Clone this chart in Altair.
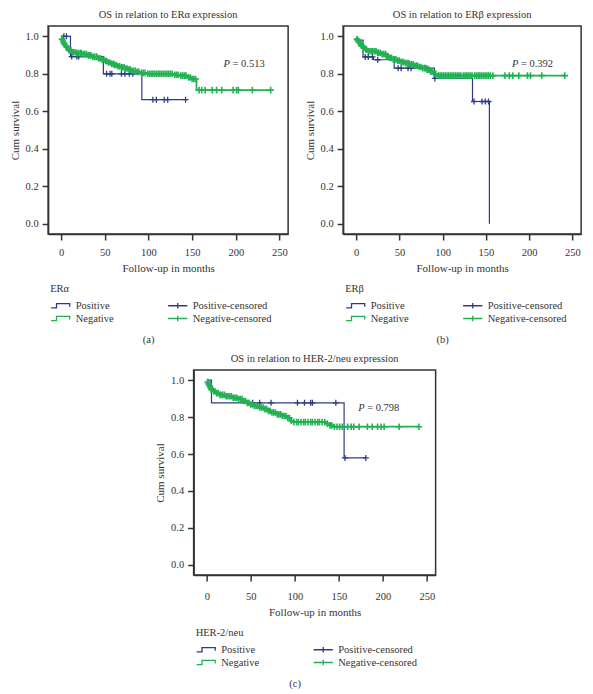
import altair as alt
import pandas as pd

FONT = "Liberation Serif"
TXT = "#333333"
NAVY = "#2f3c84"
GREEN = "#22b152"

# ---------------- data ----------------
x_ticks = [0, 50, 100, 150, 200, 250]
y_ticks = [0.0, 0.2, 0.4, 0.6, 0.8, 1.0]
series_order = ["Positive", "Negative", "Positive-censored", "Negative-censored"]

panel_titles = ["OS in relation to ERα expression",
                "OS in relation to ERβ expression",
                "OS in relation to HER-2/neu expression"]
legend_titles = ["ERα", "ERβ", "HER-2/neu"]
panel_tags = ["(a)", "(b)", "(c)"]
p_values = ["= 0.513", "= 0.392", "= 0.798"]
p_x = [186, 180, 172]
p_y = [0.853, 0.852, 0.85]

# (a) ER alpha
a_pos_t = [0, 10.6, 48.3, 92.4, 142.5]
a_pos_s = [1.0, 0.892, 0.80, 0.662, 0.662]
a_pos_c = [3, 6, 12, 18, 20, 52, 56, 58, 69, 73, 78, 82, 105, 109, 118, 122, 142.5]
a_neg_t = [0, 1, 2, 3, 4, 5, 7, 9, 12, 18, 24, 30, 36, 42, 47, 50, 53, 57, 61, 65, 69, 73,
           77, 81, 86, 91, 97, 128, 135, 145, 150, 155, 240]
a_neg_s = [1.0, 0.985, 0.975, 0.965, 0.955, 0.945, 0.935, 0.925, 0.915, 0.91, 0.905, 0.898,
           0.89, 0.882, 0.875, 0.868, 0.86, 0.853, 0.847, 0.84, 0.834, 0.828, 0.822, 0.816,
           0.81, 0.805, 0.80, 0.795, 0.79, 0.78, 0.772, 0.713, 0.713]
a_neg_c = [1, 2, 3, 4, 6, 8, 9, 11, 13, 14, 16, 18, 20, 22, 23, 25, 27, 29, 31, 32, 34, 36,
           38, 40, 41, 43, 45, 47, 49, 51, 52, 54, 56, 58, 60, 61, 63, 65, 67, 69, 70, 72,
           74, 76, 78, 79, 81, 83, 85, 87, 89, 92, 94, 96, 99, 101, 103, 105, 107, 109, 111,
           113, 115, 117, 119, 121, 123, 125, 127, 130, 132, 134, 137, 139, 141, 143, 146,
           148, 150, 152, 154, 158, 161, 165, 173, 178, 184, 197, 201, 203, 219, 240]

# (b) ER beta
b_pos_t = [0, 8, 20, 44, 90.5, 134.5, 154]
b_pos_s = [0.98, 0.89, 0.875, 0.83, 0.775, 0.652, 0.0]
b_pos_c = [10.5, 14, 19, 25, 48.5, 52, 60, 63.5, 82, 91, 136.2, 145.5, 149.3, 153]
b_neg_t = [0, 1, 2, 3, 4, 6, 8, 10, 13, 24, 30, 35, 39, 43, 47, 52, 57, 62, 67, 72, 77, 82,
           86, 89, 93, 242]
b_neg_s = [0.99, 0.985, 0.978, 0.97, 0.96, 0.95, 0.94, 0.93, 0.92, 0.912, 0.905, 0.895,
           0.885, 0.877, 0.87, 0.862, 0.857, 0.85, 0.843, 0.836, 0.83, 0.822, 0.812, 0.80,
           0.79, 0.79]
b_neg_c = [1, 2, 3, 5, 6, 7, 9, 11, 12, 14, 16, 18, 19, 21, 23, 25, 26, 28, 30, 32, 34, 35,
           37, 39, 41, 43, 44, 46, 48, 50, 52, 53, 55, 57, 59, 61, 62, 64, 66, 68, 70, 71,
           73, 75, 77, 79, 80, 82, 84, 86, 88, 90, 92, 95, 97, 99, 101, 103, 105, 107, 109,
           111, 113, 115, 117, 119, 121, 124, 126, 128, 130, 132, 134, 137, 139, 141, 143,
           145, 147, 149, 151, 153, 155, 158, 172, 177, 181, 188, 198, 201.5, 214.5, 241]

# (c) HER-2/neu
c_pos_t = [0, 5.3, 156, 180.7]
c_pos_s = [1.0, 0.877, 0.579, 0.579]
c_pos_c = [52, 60, 73, 103, 111, 118, 120, 146.6, 157, 180.7]
c_neg_t = [0, 1, 2, 3, 4, 5, 7, 10, 14, 22, 30, 36, 41, 46, 49, 54, 60, 65, 69, 73, 80, 86,
           91, 95, 98, 135, 140, 143, 241]
c_neg_s = [1.0, 0.99, 0.98, 0.97, 0.96, 0.95, 0.94, 0.93, 0.92, 0.913, 0.905, 0.897, 0.887,
           0.877, 0.868, 0.86, 0.852, 0.843, 0.834, 0.825, 0.815, 0.806, 0.795, 0.78, 0.773,
           0.765, 0.755, 0.748, 0.748]
c_neg_c = [1, 2, 3, 4, 5, 6, 8, 9, 11, 13, 15, 16, 18, 20, 22, 24, 26, 28, 30, 32, 34, 36,
           38, 40, 42, 44, 46, 48, 50, 52, 54, 56, 58, 60, 62, 64, 66, 68, 70, 72, 74, 76,
           78, 80, 82, 84, 86, 88, 90, 92, 94, 96, 99, 102, 104, 107, 110, 112, 115, 118,
           120, 123, 126, 128, 131, 134, 137, 140, 142, 145, 148, 151, 154, 160, 164, 167,
           173, 182.5, 188, 194, 198, 201.5, 218.5, 241]

# ---------------- helpers ----------------
STEP_SYM = "M-1.6,0.35H-0.7V-0.35H1.5V0.15"
PLUS_SYM = "M-1.6,0H1.6M0,-0.45V0.45"
CENSOR_MARK = "M-1,0H1M0,-1V1"


def surv_at(ts, ss, t):
    v = ss[0]
    for ti, si in zip(ts, ss):
        if ti <= t:
            v = si
        else:
            break
    return v


def panel(i, pos_t, pos_s, pos_c, neg_t, neg_s, neg_c, w, h, xpad):
    xs = alt.Scale(domain=[-15, 260], nice=False, zero=False)
    ys = alt.Scale(domain=[-0.055, 1.055], nice=False, zero=False)
    xax = alt.Axis(values=x_ticks, title="Follow-up in months", format="d", labelPadding=xpad)
    yax = alt.Axis(values=y_ticks, title="Cum survival", format=".1f")
    X = alt.X("t:Q", scale=xs, axis=xax)
    Y = alt.Y("s:Q", scale=ys, axis=yax)

    pos_curve = pd.DataFrame({"t": pos_t, "s": pos_s})
    neg_curve = pd.DataFrame({"t": neg_t, "s": neg_s})
    pos_cens = pd.DataFrame({"t": pos_c, "s": [surv_at(pos_t, pos_s, t) for t in pos_c]})
    neg_cens = pd.DataFrame({"t": neg_c, "s": [surv_at(neg_t, neg_s, t) for t in neg_c]})

    def line(df, col, sw):
        return alt.Chart(df).mark_line(interpolate="step-after", color=col,
                                       strokeWidth=sw).encode(x=X, y=Y)

    def cens(df, col, size, sw):
        return alt.Chart(df).mark_point(shape=CENSOR_MARK, size=size, color=col,
                                        filled=False, strokeWidth=sw,
                                        opacity=1).encode(x=X, y=Y)

    leg = alt.Legend(title=legend_titles[i], orient="none", legendX=2, legendY=h + 50 + xpad - 7,
                     columns=2, columnPadding=51, rowPadding=0, symbolSize=144,
                     symbolStrokeWidth=1.3, symbolOffset=3.6, labelOffset=8,
                     labelFont=FONT, labelFontSize=10.5, labelColor=TXT,
                     titleFont=FONT, titleFontSize=10.5, titleFontWeight="normal",
                     titleColor=TXT, titlePadding=4)
    leg_df = pd.DataFrame({"series": series_order, "t": [0] * 4, "s": [0] * 4})
    legend_layer = alt.Chart(leg_df).transform_filter("false").mark_point(
        filled=False, opacity=1).encode(
        x=X, y=Y,
        color=alt.Color("series:N", legend=leg,
                        scale=alt.Scale(domain=series_order,
                                        range=[NAVY, GREEN, NAVY, GREEN])),
        shape=alt.Shape("series:N", legend=leg,
                        scale=alt.Scale(domain=series_order,
                                        range=[STEP_SYM, STEP_SYM, PLUS_SYM, PLUS_SYM])))

    pdf = pd.DataFrame({"t": [p_x[i]], "s": [p_y[i]], "lab": [p_values[i]]})
    p_italic = alt.Chart(pdf).mark_text(text="P", fontStyle="italic", font=FONT,
                                        fontSize=10.5, align="left", color=TXT).encode(x=X, y=Y)
    p_rest = alt.Chart(pdf).mark_text(font=FONT, fontSize=10.5, align="left", dx=9,
                                      color=TXT).encode(x=X, y=Y, text="lab:N")

    layer = alt.layer(line(pos_curve, NAVY, 1.2), cens(pos_cens, NAVY, 36, 1.3),
                      line(neg_curve, GREEN, 1.8), cens(neg_cens, GREEN, 44, 1.6),
                      p_italic, p_rest, legend_layer).properties(
        width=w, height=h,
        title=alt.Title(panel_titles[i], font=FONT, fontSize=10.5, fontWeight="normal",
                        color=TXT, frame="group", anchor="middle", offset=6))
    wrapper = alt.vconcat(layer).resolve_scale(color="independent", shape="independent").properties(
        title=alt.Title(panel_tags[i], orient="bottom", anchor="middle", font=FONT,
                        fontSize=10.5, fontWeight="normal", color=TXT, offset=10))
    return wrapper


pa = panel(0, a_pos_t, a_pos_s, a_pos_c, a_neg_t, a_neg_s, a_neg_c, 240, 208, 7)
pb = panel(1, b_pos_t, b_pos_s, b_pos_c, b_neg_t, b_neg_s, b_neg_c, 238, 208, 7)
pc = panel(2, c_pos_t, c_pos_s, c_pos_c, c_neg_t, c_neg_s, c_neg_c, 242, 205, 10)

top = alt.hconcat(pa, pb, spacing=14).resolve_scale(color="independent", shape="independent")
chart = alt.vconcat(top, pc, spacing=6, center=True).resolve_scale(
    color="independent", shape="independent").properties(padding=0).configure(
    font=FONT).configure_axis(
    labelFont=FONT, labelFontSize=10.5, labelColor=TXT, titleFont=FONT, titleFontSize=11,
    titleFontWeight="normal", titleColor=TXT, domainColor=TXT, domainWidth=1.5,
    tickColor=TXT, tickWidth=1.5, tickSize=6, labelPadding=4, titlePadding=5, grid=False
).configure_view(stroke=TXT, strokeWidth=1.5)

chart.save("out.html", embed_options={"renderer": "svg", "actions": False})
